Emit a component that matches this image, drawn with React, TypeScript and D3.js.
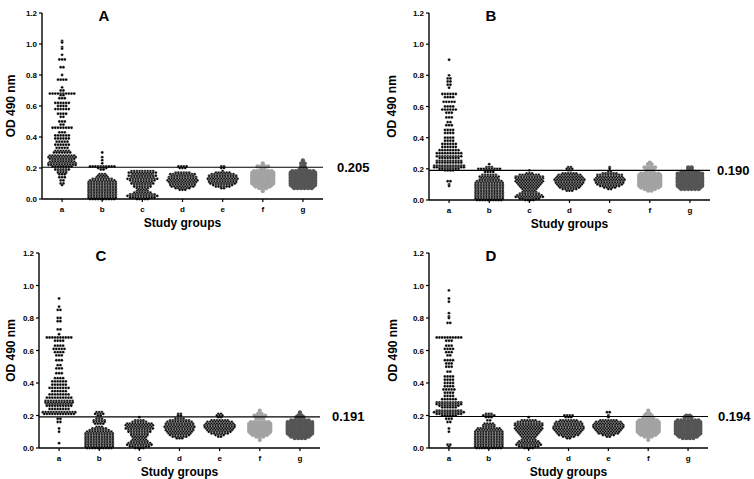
import React from 'react';
import * as d3 from 'd3';

// [OD value, number of samples at that value]
const groupNames = ['a', 'b', 'c', 'd', 'e', 'f', 'g'];
const yTicks = [0, 0.2, 0.4, 0.6, 0.8, 1.0, 1.2];

const A_a = [[1.02,1],[1.01,1],[0.98,1],[0.97,1],[0.93,1],[0.90,3],[0.85,2],[0.80,1],[0.77,4],[0.72,1],[0.70,2],[0.68,10],[0.67,2],[0.65,3],[0.62,6],[0.60,4],[0.58,6],[0.55,4],[0.53,2],[0.50,3],[0.48,2],[0.46,8],[0.43,3],[0.41,6],[0.39,6],[0.37,5],[0.35,6],[0.33,5],[0.31,6],[0.30,7],[0.28,10],[0.27,11],[0.26,10],[0.25,8],[0.24,10],[0.23,11],[0.22,11],[0.21,8],[0.19,6],[0.18,4],[0.17,4],[0.16,3],[0.14,3],[0.12,2],[0.10,2],[0.09,1]];
const A_b = [[0.30,1],[0.27,1],[0.25,1],[0.23,1],[0.21,10],[0.20,4],[0.19,2],[0.16,3],[0.15,4],[0.14,5],[0.13,8],[0.12,10],[0.11,11],[0.10,11],[0.09,11],[0.08,11],[0.07,11],[0.06,11],[0.05,11],[0.04,11],[0.03,11],[0.02,11],[0.01,11],[0.00,10]];
const A_c = [[0.18,9],[0.17,11],[0.16,8],[0.15,11],[0.14,9],[0.13,12],[0.12,10],[0.11,8],[0.10,9],[0.09,7],[0.08,7],[0.07,5],[0.06,4],[0.05,5],[0.04,7],[0.03,10],[0.02,12],[0.01,10],[0.00,5]];
const A_d = [[0.21,4],[0.20,3],[0.17,6],[0.16,10],[0.15,9],[0.14,11],[0.13,11],[0.12,12],[0.11,11],[0.10,10],[0.09,10],[0.08,9],[0.07,6],[0.06,3]];
const A_e = [[0.21,2],[0.20,2],[0.18,1],[0.17,6],[0.16,9],[0.15,11],[0.14,11],[0.13,12],[0.12,11],[0.11,11],[0.10,10],[0.09,8],[0.08,6],[0.07,2]];
const A_f = [[0.23,1],[0.21,4],[0.19,2],[0.18,6],[0.17,7],[0.16,7],[0.15,7],[0.14,7],[0.13,7],[0.12,7],[0.11,7],[0.10,7],[0.09,6],[0.08,5],[0.07,3],[0.06,1],[0.05,1]];
const A_g = [[0.25,1],[0.23,2],[0.21,2],[0.19,3],[0.18,7],[0.17,8],[0.16,8],[0.15,8],[0.14,8],[0.13,8],[0.12,8],[0.11,8],[0.10,8],[0.09,8],[0.08,7],[0.07,6]];

const B_a = [[0.90,1],[0.80,1],[0.78,2],[0.76,2],[0.74,2],[0.72,1],[0.68,6],[0.66,4],[0.63,5],[0.60,4],[0.58,6],[0.56,3],[0.53,3],[0.50,2],[0.48,3],[0.45,4],[0.43,4],[0.40,4],[0.38,4],[0.36,6],[0.34,6],[0.32,8],[0.30,10],[0.28,10],[0.27,8],[0.25,10],[0.24,10],[0.22,12],[0.21,12],[0.20,8],[0.19,4],[0.12,2],[0.10,1],[0.09,1]];
const B_b = [[0.23,1],[0.21,3],[0.20,9],[0.19,4],[0.18,4],[0.16,6],[0.15,8],[0.14,7],[0.13,8],[0.12,10],[0.11,11],[0.10,11],[0.09,11],[0.08,11],[0.07,11],[0.06,11],[0.05,11],[0.04,11],[0.03,11],[0.02,11],[0.01,11],[0.00,10]];
const B_c = [[0.19,1],[0.17,3],[0.16,8],[0.15,11],[0.14,11],[0.13,10],[0.12,11],[0.11,10],[0.10,9],[0.09,8],[0.08,7],[0.07,6],[0.06,5],[0.05,6],[0.04,8],[0.03,10],[0.02,11],[0.01,8],[0.00,4]];
const B_d = [[0.21,2],[0.20,3],[0.19,2],[0.17,6],[0.16,9],[0.15,10],[0.14,11],[0.13,12],[0.12,11],[0.11,11],[0.10,10],[0.09,9],[0.08,8],[0.07,6],[0.06,3]];
const B_e = [[0.21,1],[0.20,1],[0.18,2],[0.17,6],[0.16,10],[0.15,10],[0.14,11],[0.13,12],[0.12,11],[0.11,11],[0.10,10],[0.09,8],[0.08,5],[0.07,2]];
const B_f = [[0.24,1],[0.23,2],[0.21,4],[0.19,3],[0.17,6],[0.16,7],[0.15,7],[0.14,7],[0.13,7],[0.12,7],[0.11,7],[0.10,7],[0.09,7],[0.08,6],[0.07,4],[0.06,2]];
const B_g = [[0.21,2],[0.20,2],[0.19,2],[0.18,6],[0.17,8],[0.16,8],[0.15,8],[0.14,8],[0.13,8],[0.12,8],[0.11,8],[0.10,8],[0.09,8],[0.08,7],[0.07,6]];

const C_a = [[0.92,1],[0.87,1],[0.85,2],[0.80,2],[0.78,2],[0.73,2],[0.70,1],[0.68,10],[0.66,4],[0.63,4],[0.61,5],[0.59,4],[0.57,3],[0.54,3],[0.51,2],[0.49,3],[0.46,3],[0.43,4],[0.41,6],[0.39,6],[0.37,8],[0.35,6],[0.33,8],[0.31,10],[0.29,11],[0.28,11],[0.27,10],[0.26,10],[0.24,8],[0.22,13],[0.21,12],[0.18,2],[0.16,2],[0.12,1],[0.10,1],[0.03,1]];
const C_b = [[0.22,3],[0.21,4],[0.20,2],[0.18,3],[0.17,5],[0.16,5],[0.15,4],[0.13,3],[0.12,6],[0.11,8],[0.10,10],[0.09,11],[0.08,11],[0.07,11],[0.06,11],[0.05,11],[0.04,11],[0.03,11],[0.02,11],[0.01,11],[0.00,10]];
const C_c = [[0.19,1],[0.17,4],[0.16,6],[0.15,10],[0.14,11],[0.13,10],[0.12,11],[0.11,9],[0.10,9],[0.09,7],[0.08,7],[0.07,6],[0.06,5],[0.05,6],[0.04,7],[0.03,9],[0.02,10],[0.01,8],[0.00,4]];
const C_d = [[0.21,2],[0.20,2],[0.18,4],[0.17,8],[0.16,10],[0.15,11],[0.14,11],[0.13,12],[0.12,11],[0.11,11],[0.10,10],[0.09,9],[0.08,8],[0.07,6],[0.06,3]];
const C_e = [[0.21,2],[0.20,3],[0.19,2],[0.17,7],[0.16,10],[0.15,11],[0.14,12],[0.13,12],[0.12,11],[0.11,10],[0.10,9],[0.09,7],[0.08,4],[0.07,2]];
const C_f = [[0.23,1],[0.21,2],[0.20,4],[0.18,3],[0.16,6],[0.15,7],[0.14,7],[0.13,7],[0.12,7],[0.11,7],[0.10,7],[0.09,6],[0.08,5],[0.07,3],[0.05,1]];
const C_g = [[0.22,1],[0.21,1],[0.20,2],[0.19,3],[0.17,6],[0.16,8],[0.15,8],[0.14,8],[0.13,8],[0.12,8],[0.11,8],[0.10,8],[0.09,8],[0.08,7],[0.07,6],[0.06,4]];

const D_a = [[0.97,1],[0.92,1],[0.90,1],[0.83,1],[0.81,1],[0.80,1],[0.77,2],[0.68,10],[0.66,3],[0.63,3],[0.61,4],[0.59,3],[0.57,2],[0.54,4],[0.52,3],[0.50,3],[0.47,2],[0.44,4],[0.42,4],[0.40,4],[0.38,4],[0.36,5],[0.34,4],[0.32,4],[0.30,6],[0.28,10],[0.27,10],[0.26,8],[0.25,6],[0.23,10],[0.22,12],[0.21,10],[0.20,6],[0.18,3],[0.16,2],[0.12,1],[0.10,1],[0.02,2],[0.01,1]];
const D_b = [[0.21,3],[0.20,5],[0.19,3],[0.17,2],[0.15,4],[0.14,5],[0.13,5],[0.12,9],[0.11,10],[0.10,11],[0.09,11],[0.08,11],[0.07,11],[0.06,11],[0.05,11],[0.04,11],[0.03,11],[0.02,11],[0.01,11],[0.00,10]];
const D_c = [[0.19,1],[0.17,6],[0.16,9],[0.15,11],[0.14,11],[0.13,10],[0.12,11],[0.11,10],[0.10,9],[0.09,8],[0.08,7],[0.07,6],[0.06,5],[0.05,6],[0.04,8],[0.03,9],[0.02,10],[0.01,8],[0.00,4]];
const D_d = [[0.20,4],[0.19,3],[0.17,7],[0.16,10],[0.15,11],[0.14,11],[0.13,12],[0.12,12],[0.11,11],[0.10,10],[0.09,9],[0.08,8],[0.07,5],[0.06,2]];
const D_e = [[0.22,2],[0.20,1],[0.19,1],[0.17,7],[0.16,10],[0.15,11],[0.14,12],[0.13,12],[0.12,11],[0.11,10],[0.10,9],[0.09,8],[0.08,5],[0.07,2]];
const D_f = [[0.23,1],[0.21,2],[0.20,3],[0.18,4],[0.17,6],[0.16,7],[0.15,7],[0.14,7],[0.13,7],[0.12,7],[0.11,7],[0.10,7],[0.09,6],[0.08,5],[0.07,3],[0.05,1]];
const D_g = [[0.20,2],[0.19,3],[0.17,7],[0.16,8],[0.15,8],[0.14,8],[0.13,8],[0.12,8],[0.11,8],[0.10,8],[0.09,8],[0.08,7],[0.07,6],[0.06,4]];

const cutoffs = [0.205, 0.190, 0.191, 0.194];
const letters = ['A', 'B', 'C', 'D'];

// kolory grup: a-e czarne, f jasnoszare, g ciemnoszare
const groupColor = ['#000', '#000', '#000', '#000', '#000', '#a3a3a3', '#555'];

const panels = [
  { data: [A_a, A_b, A_c, A_d, A_e, A_f, A_g], left: 42, right: 323, top: 13, bottom: 199, cutGap: 14, ylabX: 15 },
  { data: [B_a, B_b, B_c, B_d, B_e, B_f, B_g], left: 429, right: 710, top: 13, bottom: 200, cutGap: 7, ylabX: 396 },
  { data: [C_a, C_b, C_c, C_d, C_e, C_f, C_g], left: 39, right: 320, top: 253, bottom: 448, cutGap: 12, ylabX: 15 },
  { data: [D_a, D_b, D_c, D_d, D_e, D_f, D_g], left: 429, right: 708, top: 253, bottom: 448, cutGap: 10, ylabX: 397 },
];

const FONT = '"Liberation Sans", Arial, sans-serif';
const INK = '#000';

function Panel({ p, i }) {
  const y = d3.scaleLinear().domain([0, 1.2]).range([p.bottom, p.top]);
  const x = d3.scalePoint().domain(groupNames).range([p.left, p.right]).padding(0.5);

  // rozkładanie kropek w rzędy (jak w Prismie)
  const dots = [];
  p.data.forEach((rows, gi) => {
    const big = gi >= 5;
    const step = big ? 3.5 : 2.7;
    rows.forEach(([v, n]) => {
      for (let k = 0; k < n; k++) {
        const off = (k - (n - 1) / 2) * step;
        dots.push({ cx: x(groupNames[gi]) + off, cy: y(v), r: big ? 2.1 : 1.45, fill: groupColor[gi], big });
      }
    });
  });

  const midX = (p.left + p.right) / 2;
  const midY = (p.top + p.bottom) / 2;
  const cy = y(cutoffs[i]);

  return (
    <g fontFamily={FONT} fontWeight="bold" fill={INK}>
      {dots.map((d, k) => (
        <circle
          key={k}
          cx={d.cx}
          cy={d.cy}
          r={d.r}
          fill={d.fill}
          stroke={d.big ? 'none' : '#fff'}
          strokeWidth={0.3}
        />
      ))}
      {/* cutoff */}
      <line x1={p.left} x2={p.right} y1={cy} y2={cy} stroke={INK} strokeWidth={1.2} />
      <text x={p.right + p.cutGap} y={cy + 4.5} fontSize={13}>{cutoffs[i].toFixed(3)}</text>
      {/* y axis */}
      <line x1={p.left} x2={p.left} y1={p.top} y2={p.bottom} stroke={INK} strokeWidth={1.4} />
      {yTicks.map((t) => (
        <g key={t}>
          <line x1={p.left - 3} x2={p.left} y1={y(t)} y2={y(t)} stroke={INK} strokeWidth={1.2} />
          <text x={p.left - 5} y={y(t) + 3} fontSize={8} textAnchor="end">{t.toFixed(1)}</text>
        </g>
      ))}
      {/* x axis */}
      <line x1={p.left} x2={p.right} y1={p.bottom} y2={p.bottom} stroke={INK} strokeWidth={1.4} />
      {groupNames.map((g) => (
        <g key={g}>
          <line x1={x(g)} x2={x(g)} y1={p.bottom} y2={p.bottom + 3} stroke={INK} strokeWidth={1.2} />
          <text x={x(g)} y={p.bottom + 13} fontSize={8} textAnchor="middle">{g}</text>
        </g>
      ))}
      <text x={midX} y={p.bottom + 28} fontSize={12} textAnchor="middle">Study groups</text>
      <text transform={`translate(${p.ylabX},${midY}) rotate(-90)`} fontSize={12} textAnchor="middle">OD 490 nm</text>
      <text x={p.left + 62} y={p.top + 8} fontSize={15} textAnchor="middle">{letters[i]}</text>
    </g>
  );
}

export default function App() {
  return (
    <svg width={754} height={479} style={{ position: 'absolute', left: 0, top: 0, background: '#fff' }}>
      {panels.map((p, i) => (
        <Panel key={i} p={p} i={i} />
      ))}
    </svg>
  );
}
